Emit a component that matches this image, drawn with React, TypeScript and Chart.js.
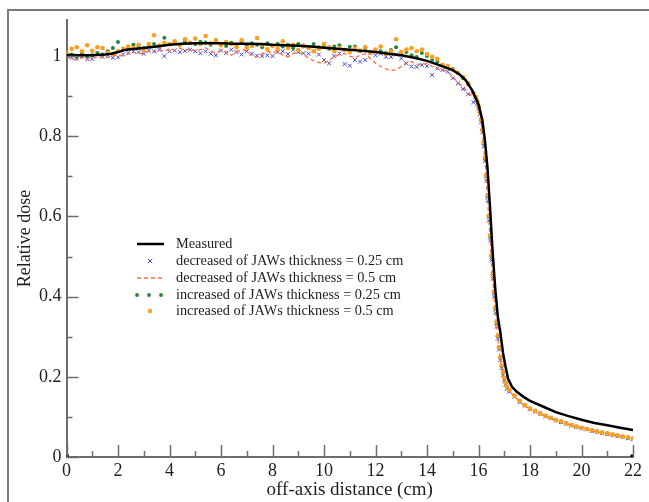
import React, { useEffect, useRef } from 'react';
import { Chart, registerables } from 'chart.js';
Chart.register(...registerables);

const measuredX = [0, 0.5, 1.0, 1.5, 1.75, 2.0, 2.25, 2.5, 3.0, 3.5, 4.0, 4.5, 5.0, 5.5, 6.0, 6.5, 7.0, 7.5, 8.0, 8.5, 9.0, 9.5, 10.0, 10.5, 11.0, 11.5, 12.0, 12.5, 13.0, 13.5, 14.0, 14.5, 15.0, 15.25, 15.5, 15.75, 16.0, 16.15, 16.25, 16.35, 16.45, 16.55, 16.65, 16.75, 16.85, 16.95, 17.05, 17.15, 17.3, 17.5, 17.75, 18.0, 18.5, 19.0, 19.5, 20.0, 20.5, 21.0, 21.5, 22.0];
const measuredY = [1.003, 1.002, 1.002, 1.004, 1.006, 1.010, 1.015, 1.017, 1.020, 1.024, 1.028, 1.031, 1.032, 1.032, 1.032, 1.031, 1.031, 1.030, 1.028, 1.027, 1.026, 1.024, 1.021, 1.018, 1.016, 1.013, 1.010, 1.006, 1.002, 0.996, 0.988, 0.977, 0.965, 0.955, 0.940, 0.915, 0.880, 0.840, 0.790, 0.720, 0.620, 0.510, 0.420, 0.350, 0.310, 0.260, 0.225, 0.195, 0.175, 0.162, 0.150, 0.140, 0.126, 0.112, 0.102, 0.093, 0.085, 0.079, 0.073, 0.067];

const simX = [
  0, 0.2, 0.4, 0.6, 0.8, 1.0, 1.2, 1.4, 1.6, 1.8, 2.0, 2.2, 2.4, 2.6, 2.8, 3.0, 3.2, 3.4, 3.6, 3.8,
  4.0, 4.2, 4.4, 4.6, 4.8, 5.0, 5.2, 5.4, 5.6, 5.8, 6.0, 6.2, 6.4, 6.6, 6.8, 7.0, 7.2, 7.4, 7.6, 7.8,
  8.0, 8.2, 8.4, 8.6, 8.8, 9.0, 9.2, 9.4, 9.6, 9.8, 10.0, 10.2, 10.4, 10.6, 10.8, 11.0, 11.2, 11.4, 11.6, 11.8,
  12.0, 12.2, 12.4, 12.6, 12.8, 13.0, 13.2, 13.4, 13.6, 13.8, 14.0, 14.2, 14.4, 14.6, 14.8, 15.0, 15.2, 15.4, 15.6, 15.8,
  15.9, 15.95, 16.0, 16.05, 16.1, 16.15, 16.2, 16.25, 16.3, 16.35, 16.4, 16.45, 16.5, 16.55, 16.6, 16.65, 16.7, 16.75, 16.8, 16.85,
  16.9, 16.95, 17.0, 17.05, 17.1,
  17.2, 17.4, 17.6, 17.8, 18.0, 18.2, 18.4, 18.6, 18.8, 19.0, 19.2, 19.4, 19.6, 19.8, 20.0, 20.2, 20.4, 20.6, 20.8, 21.0,
  21.2, 21.4, 21.6, 21.8, 22.0,
];

const dec025 = [
  1.0, 0.996, 0.994, 1.0, 0.992, 0.993, 1.006, 0.998, 1.002, 0.996, 0.997, 1.004, 1.008, 1.012, 1.01, 1.006, 1.014, 1.012, 1.016, 1.0,
  1.012, 1.014, 1.01, 1.013, 1.016, 1.012, 1.007, 1.012, 1.006, 1.002, 1.014, 1.008, 1.016, 1.01, 1.004, 1.012, 1.006, 1.001, 1.0, 1.002,
  1.0, 1.01, 1.012, 1.005, 1.016, 1.01, 1.007, 1.006, 1.012, 1.004, 0.99, 0.982, 1.0, 1.006, 0.98, 0.976, 0.99, 0.986, 0.99, 1.008,
  1.002, 1.006, 0.998, 0.998, 1.004, 0.994, 0.982, 0.974, 0.973, 0.978, 0.975, 0.953, 0.969, 0.965, 0.961, 0.945, 0.932, 0.918, 0.905, 0.885,
  0.89, 0.882, 0.868, 0.855, 0.835, 0.81, 0.775, 0.738, 0.69, 0.64, 0.59, 0.54, 0.49, 0.445, 0.4, 0.36, 0.325, 0.295, 0.268, 0.242,
  0.222, 0.205, 0.192, 0.18, 0.17,
  0.163, 0.15, 0.137, 0.128, 0.119, 0.113, 0.108, 0.101, 0.097, 0.091, 0.087, 0.083, 0.078, 0.075, 0.071, 0.069, 0.065, 0.063, 0.06, 0.057,
  0.055, 0.052, 0.05, 0.047, 0.045,
];

const dec05 = [
  0.998, 0.994, 0.99, 0.996, 0.992, 0.998, 0.995, 1.0, 0.996, 1.0, 1.004, 1.0, 1.006, 1.01, 1.005, 1.008, 1.012, 1.01, 1.016, 1.012,
  1.018, 1.015, 1.02, 1.014, 1.018, 1.012, 1.016, 1.02, 1.012, 1.008, 1.014, 1.01, 1.002, 1.01, 1.016, 1.012, 1.0, 0.998, 1.006, 1.012,
  1.008, 1.012, 1.002, 0.998, 1.006, 1.01, 1.004, 0.995, 0.988, 0.984, 0.982, 0.99, 0.998, 1.004, 1.006, 1.0, 0.996, 1.002, 1.006, 0.994,
  0.982, 0.974, 0.968, 0.964, 0.966, 0.974, 0.984, 0.986, 0.98, 0.978, 0.982, 0.974, 0.968, 0.966, 0.962, 0.948, 0.935, 0.922, 0.91, 0.895,
  0.893, 0.884, 0.87, 0.856, 0.836, 0.81, 0.778, 0.74, 0.693, 0.643, 0.593, 0.543, 0.493, 0.448, 0.403, 0.363, 0.328, 0.296, 0.268, 0.244,
  0.223, 0.206, 0.193, 0.181, 0.171,
  0.164, 0.151, 0.138, 0.127, 0.12, 0.113, 0.107, 0.102, 0.096, 0.092, 0.087, 0.083, 0.079, 0.075, 0.072, 0.068, 0.066, 0.062, 0.06, 0.058,
  0.055, 0.053, 0.05, 0.048, 0.044,
];

const inc025 = [
  1.0, 1.004, 0.998, 1.006, 1.0, 1.002, 1.008, 1.004, 1.012, 1.02, 1.035, 1.018, 1.022, 1.028, 1.024, 1.02, 1.026, 1.03, 1.024, 1.046,
  1.03, 1.034, 1.028, 1.036, 1.032, 1.03, 1.036, 1.034, 1.028, 1.035, 1.03, 1.025, 1.033, 1.028, 1.036, 1.027, 1.032, 1.028, 1.022, 1.032,
  1.026, 1.03, 1.024, 1.028, 1.02, 1.03, 1.024, 1.02, 1.03, 1.022, 1.027, 1.018, 1.024, 1.027, 1.016, 1.023, 1.024, 1.012, 1.018, 1.01,
  1.016, 1.012, 1.008, 1.015, 1.022, 1.005, 1.01, 1.002, 0.998, 1.008, 1.0, 0.99, 0.985, 0.978, 0.974, 0.968, 0.958, 0.945, 0.93, 0.908,
  0.897, 0.887, 0.874, 0.859, 0.84, 0.815, 0.783, 0.744, 0.7, 0.65, 0.6, 0.55, 0.5, 0.455, 0.41, 0.37, 0.334, 0.301, 0.272, 0.247,
  0.227, 0.21, 0.197, 0.185, 0.175,
  0.166, 0.153, 0.139, 0.129, 0.121, 0.114, 0.109, 0.103, 0.097, 0.093, 0.088, 0.084, 0.079, 0.076, 0.072, 0.069, 0.066, 0.064, 0.061, 0.058,
  0.056, 0.053, 0.051, 0.048, 0.046,
];

const inc05 = [
  1.008, 1.018, 1.022, 1.012, 1.027, 1.013, 1.022, 1.02, 1.008, 1.006, 1.012, 1.018, 1.024, 1.02, 1.028, 1.015, 1.03, 1.052, 1.026, 1.033,
  1.03, 1.037, 1.028, 1.042, 1.033, 1.044, 1.03, 1.05, 1.032, 1.04, 1.027, 1.035, 1.03, 1.022, 1.04, 1.02, 1.025, 1.045, 1.028, 1.017,
  1.025, 1.018, 1.037, 1.02, 1.028, 1.015, 1.026, 1.02, 1.012, 1.018, 1.03, 1.022, 1.012, 1.02, 1.015, 1.01, 1.02, 1.014, 1.022, 1.008,
  1.016, 1.024, 1.005, 1.012, 1.042, 1.01, 1.016, 1.02, 1.012, 1.016, 1.005, 0.998, 0.993, 0.978, 0.975, 0.966, 0.958, 0.948, 0.932, 0.908,
  0.898, 0.888, 0.875, 0.86, 0.842, 0.817, 0.786, 0.747, 0.703, 0.653, 0.603, 0.553, 0.503, 0.458, 0.413, 0.373, 0.337, 0.303, 0.274, 0.249,
  0.229, 0.212, 0.198, 0.186, 0.176,
  0.167, 0.153, 0.14, 0.129, 0.121, 0.115, 0.108, 0.103, 0.098, 0.092, 0.089, 0.084, 0.08, 0.076, 0.073, 0.07, 0.067, 0.063, 0.061, 0.059,
  0.056, 0.054, 0.051, 0.049, 0.046,
];

const cornerX = [0, 22];
const cornerY = [0, 0];

const xTicks = [0, 2, 4, 6, 8, 10, 12, 14, 16, 18, 20, 22];
const xMinorTicks = [1, 3, 5, 7, 9, 11, 13, 15, 17, 19, 21];
const yTicks = [0, 0.2, 0.4, 0.6, 0.8, 1];
const yMinorTicks = [0.1, 0.3, 0.5, 0.7, 0.9];

const seriesLabels = [
  'Measured',
  'decreased of JAWs thickness = 0.25 cm',
  'decreased of JAWs thickness = 0.5 cm',
  'increased of JAWs thickness = 0.25 cm',
  'increased of JAWs thickness = 0.5 cm',
];

const COL_BLACK = '#000000';
const COL_BLUE = '#4646c4';
const COL_RED = '#ff6a3a';
const COL_GREEN = '#1f8a3c';
const COL_ORANGE = '#ff9d1c';
const AXIS = '#6e6e6e';
const TEXT = '#1e1e1e';
const SERIF = '"Liberation Serif", "Times New Roman", serif';

const pts = (xs: number[], ys: number[]) => xs.map((x, i) => ({ x, y: ys[i] }));

const decorPlugin = {
  id: 'decor',
  beforeDraw(chart: any) {
    const ctx = chart.ctx;
    ctx.save();
    ctx.strokeStyle = '#7a7a7a';
    ctx.lineWidth = 2;
    ctx.strokeRect(8, 10, 800, 700);
    ctx.restore();
  },
  afterDraw(chart: any) {
    const ctx = chart.ctx;
    const xs = chart.scales.x;
    const ys = chart.scales.y;
    const area = chart.chartArea;
    ctx.save();
    ctx.strokeStyle = AXIS;
    ctx.lineWidth = 1.5;
    ctx.beginPath();
    xTicks.forEach((v) => {
      const px = Math.round(xs.getPixelForValue(v)) + 0.5;
      ctx.moveTo(px, area.bottom);
      ctx.lineTo(px, area.bottom - 12);
    });
    xMinorTicks.forEach((v) => {
      const px = Math.round(xs.getPixelForValue(v)) + 0.5;
      ctx.moveTo(px, area.bottom);
      ctx.lineTo(px, area.bottom - 6);
    });
    yTicks.forEach((v) => {
      const py = Math.round(ys.getPixelForValue(v)) + 0.5;
      ctx.moveTo(area.left, py);
      ctx.lineTo(area.left + 12, py);
    });
    yMinorTicks.forEach((v) => {
      const py = Math.round(ys.getPixelForValue(v)) + 0.5;
      ctx.moveTo(area.left, py);
      ctx.lineTo(area.left + 6, py);
    });
    ctx.stroke();

    // legend
    const rows = [244, 261, 278, 295, 311];
    const sx = 150;
    ctx.font = '14.3px ' + SERIF;
    ctx.textBaseline = 'middle';
    ctx.textAlign = 'left';
    ctx.fillStyle = TEXT;
    seriesLabels.forEach((t, i) => ctx.fillText(t, 176, rows[i]));
    ctx.strokeStyle = COL_BLACK;
    ctx.lineWidth = 2.5;
    ctx.beginPath();
    ctx.moveTo(137, rows[0]);
    ctx.lineTo(164, rows[0]);
    ctx.stroke();
    ctx.strokeStyle = COL_BLUE;
    ctx.lineWidth = 1;
    ctx.beginPath();
    ctx.moveTo(sx - 2.2, rows[1] - 2.2);
    ctx.lineTo(sx + 2.2, rows[1] + 2.2);
    ctx.moveTo(sx + 2.2, rows[1] - 2.2);
    ctx.lineTo(sx - 2.2, rows[1] + 2.2);
    ctx.stroke();
    ctx.strokeStyle = COL_RED;
    ctx.lineWidth = 1.3;
    ctx.setLineDash([4, 3]);
    ctx.beginPath();
    ctx.moveTo(137, rows[2]);
    ctx.lineTo(164, rows[2]);
    ctx.stroke();
    ctx.setLineDash([]);
    ctx.fillStyle = COL_GREEN;
    [137, 149, 161].forEach((x) => {
      ctx.beginPath();
      ctx.arc(x, rows[3], 1.9, 0, Math.PI * 2);
      ctx.fill();
    });
    ctx.fillStyle = COL_ORANGE;
    ctx.beginPath();
    ctx.arc(sx, rows[4], 2.2, 0, Math.PI * 2);
    ctx.fill();
    ctx.restore();
  },
};

export default function App() {
  const ref = useRef<HTMLCanvasElement | null>(null);
  useEffect(() => {
    if (!ref.current) return;
    const chart = new Chart(ref.current, {
      type: 'scatter',
      data: {
        datasets: [
          {
            label: seriesLabels[0],
            data: pts(measuredX, measuredY),
            showLine: true,
            borderColor: COL_BLACK,
            borderWidth: 2.5,
            pointRadius: 0,
            tension: 0,
          },
          {
            label: 'corners',
            data: pts(cornerX, cornerY),
            showLine: false,
            pointStyle: 'rect',
            pointRadius: 3.5,
            backgroundColor: '#000',
            borderColor: '#000',
            borderWidth: 0,
          },
          {
            label: seriesLabels[4],
            data: pts(simX, inc05),
            showLine: false,
            pointStyle: 'circle',
            pointRadius: 2.3,
            backgroundColor: COL_ORANGE,
            borderColor: COL_ORANGE,
            borderWidth: 0,
          },
          {
            label: seriesLabels[3],
            data: pts(simX, inc025),
            showLine: false,
            pointStyle: 'circle',
            pointRadius: 2,
            backgroundColor: COL_GREEN,
            borderColor: COL_GREEN,
            borderWidth: 0,
          },
          {
            label: seriesLabels[2],
            data: pts(simX, dec05),
            showLine: true,
            borderColor: COL_RED,
            borderWidth: 1.3,
            borderDash: [4, 3],
            pointRadius: 0,
            tension: 0,
          },
          {
            label: seriesLabels[1],
            data: pts(simX, dec025),
            showLine: false,
            pointStyle: 'crossRot',
            pointRadius: 2.8,
            borderColor: COL_BLUE,
            backgroundColor: COL_BLUE,
            borderWidth: 1,
          },
        ],
      },
      options: {
        animation: false,
        responsive: false,
        devicePixelRatio: 1,
        layout: { padding: { left: 0, top: 20, right: 16, bottom: 0 } },
        plugins: { legend: { display: false }, tooltip: { enabled: false } },
        scales: {
          x: {
            type: 'linear',
            min: 0,
            max: 22,
            afterFit: (s: any) => { s.height = 45; },
            afterBuildTicks: (s: any) => { s.ticks = xTicks.map((v) => ({ value: v })); },
            grid: { display: false, drawTicks: false },
            border: { display: true, color: AXIS, width: 2 },
            ticks: {
              color: TEXT,
              font: { family: SERIF, size: 18 },
              padding: 3,
              maxRotation: 0,
              autoSkip: false,
              callback: (v: any) => String(v),
            },
            title: {
              display: true,
              text: 'off-axis distance (cm)',
              color: TEXT,
              font: { family: SERIF, size: 19 },
              padding: { top: 0, bottom: 1 },
            },
          },
          y: {
            type: 'linear',
            min: 0,
            max: 1.09,
            afterFit: (s: any) => { s.width = 66.5; },
            afterBuildTicks: (s: any) => { s.ticks = yTicks.map((v) => ({ value: v })); },
            grid: { display: false, drawTicks: false },
            border: { display: true, color: AXIS, width: 2 },
            ticks: {
              color: TEXT,
              font: { family: SERIF, size: 18 },
              padding: 5,
              callback: (v: any) => String(Math.round(v * 10) / 10),
            },
            title: {
              display: true,
              text: 'Relative dose',
              color: TEXT,
              font: { family: SERIF, size: 18 },
              padding: { top: 14, bottom: 0 },
            },
          },
        },
      },
      plugins: [decorPlugin],
    } as any);
    return () => chart.destroy();
  }, []);
  return (
    <div style={{ position: 'absolute', left: 0, top: 0, width: 649, height: 502, background: '#fff' }}>
      <canvas ref={ref} width={649} height={502} style={{ display: 'block' }} />
    </div>
  );
}
